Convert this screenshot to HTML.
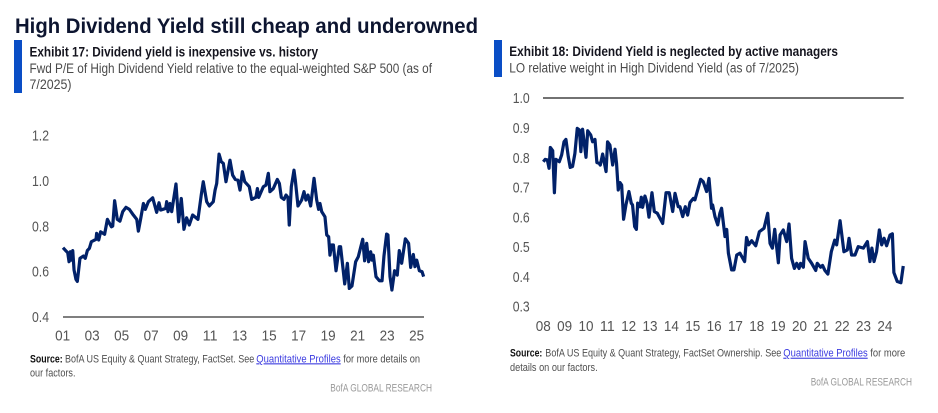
<!DOCTYPE html>
<html lang="en">
<head>
<meta charset="utf-8">
<title>High Dividend Yield still cheap and underowned</title>
<style>
html,body{margin:0;padding:0;background:#fff;width:938px;height:413px;overflow:hidden}
svg{display:block}
text{font-family:"Liberation Sans",sans-serif}
.ex{font-weight:700;font-size:13.5px;fill:#14141e}
.sub{font-size:13.5px;fill:#4a4a4a}
.src{font-size:11px;fill:#4f4f4f}
.srcb{font-size:11px;font-weight:700;fill:#111}
.lnk{font-size:11px;fill:#3b3be0;text-decoration:underline;cursor:pointer}
.brand{font-size:11px;fill:#9a9a9a}
.tick{font-size:15px;fill:#555}
</style>
</head>
<body>
<svg id="root" width="938" height="413" viewBox="0 0 938 413" xmlns="http://www.w3.org/2000/svg">
<text x="15" y="33" font-size="21" font-weight="700" fill="#0d1530" textLength="463" lengthAdjust="spacingAndGlyphs">High Dividend Yield still cheap and underowned</text>

<rect x="14" y="40" width="8" height="53" fill="#0a4ec6"/>
<text class="ex" x="29.5" y="56.5" textLength="288.5" lengthAdjust="spacingAndGlyphs">Exhibit 17: Dividend yield is inexpensive vs. history</text>
<text class="sub" x="29.5" y="73" textLength="402.5" lengthAdjust="spacingAndGlyphs">Fwd P/E of High Dividend Yield relative to the equal-weighted S&amp;P 500 (as of</text>
<text class="sub" x="29.5" y="89" textLength="42" lengthAdjust="spacingAndGlyphs">7/2025)</text>

<rect x="494" y="40" width="8" height="37" fill="#0a4ec6"/>
<text class="ex" x="509.3" y="56" textLength="328.7" lengthAdjust="spacingAndGlyphs">Exhibit 18: Dividend Yield is neglected by active managers</text>
<text class="sub" x="509.3" y="72.7" textLength="289.7" lengthAdjust="spacingAndGlyphs">LO relative weight in High Dividend Yield (as of 7/2025)</text>

<g id="chart17"></g>
<g id="chart18"></g>

<text class="srcb" x="30" y="362.3" textLength="32.7" lengthAdjust="spacingAndGlyphs">Source:</text>
<text class="src" x="65" y="362.3" textLength="189.3" lengthAdjust="spacingAndGlyphs">BofA US Equity &amp; Quant Strategy, FactSet. See</text>
<text class="lnk" x="256.3" y="362.3" textLength="84.4" lengthAdjust="spacingAndGlyphs">Quantitative Profiles</text>
<text class="src" x="343.3" y="362.3" textLength="76.7" lengthAdjust="spacingAndGlyphs">for more details on</text>
<text class="src" x="30" y="376.7" textLength="45.5" lengthAdjust="spacingAndGlyphs">our factors.</text>
<text class="brand" x="330.3" y="391.7" textLength="101.7" lengthAdjust="spacingAndGlyphs">BofA GLOBAL RESEARCH</text>

<text class="srcb" x="510" y="356.7" textLength="32.3" lengthAdjust="spacingAndGlyphs">Source:</text>
<text class="src" x="545.3" y="356.7" textLength="236" lengthAdjust="spacingAndGlyphs">BofA US Equity &amp; Quant Strategy, FactSet Ownership. See</text>
<text class="lnk" x="783.3" y="356.7" textLength="84.4" lengthAdjust="spacingAndGlyphs">Quantitative Profiles</text>
<text class="src" x="870.3" y="356.7" textLength="35" lengthAdjust="spacingAndGlyphs">for more</text>
<text class="src" x="510" y="371" textLength="87.7" lengthAdjust="spacingAndGlyphs">details on our factors.</text>
<text class="brand" x="810.7" y="385.7" textLength="101.3" lengthAdjust="spacingAndGlyphs">BofA GLOBAL RESEARCH</text>
</svg>
<script>
// Exhibit 17 data
const dates17 = [2001.00,2001.18,2001.32,2001.41,2001.50,2001.56,2001.66,2001.75,2001.88,2001.97,2002.06,2002.15,2002.38,2002.51,2002.65,2002.79,2002.92,2003.24,2003.28,2003.42,2003.55,2003.82,2004.01,2004.28,2004.37,2004.50,2004.68,2004.86,2005.05,2005.27,2005.50,2005.77,2006.00,2006.11,2006.27,2006.45,2006.58,2006.79,2007.08,2007.35,2007.51,2007.62,2007.96,2008.03,2008.12,2008.25,2008.37,2008.66,2008.84,2009.02,2009.20,2009.38,2009.56,2009.79,2010.15,2010.38,2010.51,2010.74,2010.92,2011.19,2011.31,2011.42,2011.58,2011.73,2011.87,2012.05,2012.32,2012.50,2012.68,2012.86,2013.00,2013.16,2013.32,2013.63,2013.79,2014.08,2014.18,2014.27,2014.58,2014.76,2014.92,2015.03,2015.26,2015.53,2015.67,2015.80,2015.98,2016.12,2016.25,2016.34,2016.48,2016.66,2016.75,2016.93,2017.18,2017.34,2017.47,2017.61,2017.79,2018.02,2018.20,2018.33,2018.42,2018.54,2018.76,2018.88,2019.01,2019.10,2019.21,2019.33,2019.51,2019.73,2019.82,2020.10,2020.28,2020.41,2020.59,2020.84,2021.02,2021.32,2021.45,2021.59,2021.72,2021.86,2021.95,2022.04,2022.22,2022.45,2022.63,2022.76,2022.94,2023.03,2023.17,2023.30,2023.48,2023.66,2023.80,2023.96,2024.21,2024.43,2024.57,2024.75,2024.86,2024.98,2025.16,2025.34,2025.45];
const values17 = [.706,.693,.684,.644,.688,.651,.693,.607,.566,.557,.607,.659,.669,.659,.693,.703,.732,.743,.769,.740,.776,.765,.831,.798,.801,.913,.831,.823,.865,.884,.875,.850,.831,.779,.835,.901,.875,.909,.926,.862,.904,.872,.879,.909,.865,.901,.865,.987,.820,.923,.787,.838,.806,.850,.831,.942,.997,.909,.890,.909,.960,.989,1.119,1.085,1.078,.997,1.092,1.026,1.007,1.004,.960,1.041,.997,.975,.919,.928,.967,.928,.975,.982,1.034,.953,.967,1.007,.989,.928,.919,.938,.928,.806,.975,1.048,1.004,.890,.916,.953,.916,.938,.890,1.012,.916,.875,.901,.865,.842,.762,.754,.673,.718,.718,.604,.710,.710,.546,.637,.526,.537,.644,.666,.743,.648,.725,.644,.688,.651,.673,.578,.560,.560,.669,.766,.762,.578,.519,.604,.585,.693,.637,.745,.725,.619,.676,.622,.651,.604,.600,.578];
const yTicks17 = [0.4,0.6,0.8,1.0,1.2];
const yTickLabels17 = ["0.4","0.6","0.8","1.0","1.2"];
const xTicks17 = [2001,2003,2005,2007,2009,2011,2013,2015,2017,2019,2021,2023,2025];
const xTickLabels17 = ["01","03","05","07","09","11","13","15","17","19","21","23","25"];

// Exhibit 18 data
const dates18 = [2008.00,2008.09,2008.19,2008.27,2008.33,2008.44,2008.52,2008.59,2008.75,2008.86,2008.97,2009.06,2009.17,2009.26,2009.37,2009.48,2009.59,2009.69,2009.76,2009.84,2009.90,2010.00,2010.08,2010.22,2010.31,2010.42,2010.51,2010.61,2010.67,2010.78,2010.94,2011.01,2011.12,2011.25,2011.36,2011.43,2011.51,2011.59,2011.67,2011.76,2011.87,2012.01,2012.12,2012.18,2012.28,2012.36,2012.42,2012.53,2012.59,2012.65,2012.76,2012.86,2012.95,2013.09,2013.20,2013.34,2013.59,2013.75,2013.90,2014.06,2014.17,2014.32,2014.40,2014.53,2014.65,2014.76,2014.87,2015.03,2015.10,2015.37,2015.49,2015.65,2015.76,2015.88,2015.93,2016.04,2016.17,2016.27,2016.35,2016.51,2016.59,2016.67,2016.82,2016.93,2017.06,2017.21,2017.43,2017.52,2017.62,2017.76,2017.95,2018.12,2018.34,2018.51,2018.62,2018.73,2018.84,2019.01,2019.09,2019.24,2019.40,2019.51,2019.63,2019.76,2019.87,2019.98,2020.05,2020.18,2020.26,2020.41,2020.57,2020.76,2020.83,2020.99,2021.08,2021.19,2021.33,2021.49,2021.65,2021.74,2021.90,2022.08,2022.24,2022.32,2022.44,2022.60,2022.75,2022.99,2023.18,2023.30,2023.39,2023.49,2023.61,2023.74,2023.85,2023.96,2024.08,2024.24,2024.35,2024.42,2024.58,2024.75,2024.86];
const values18 = [.786,.794,.792,.764,.834,.823,.682,.794,.786,.809,.853,.861,.803,.767,.770,.814,.898,.893,.820,.895,.859,.801,.890,.876,.853,.861,.783,.781,.775,.812,.753,.853,.842,.775,.828,.781,.691,.716,.708,.593,.641,.686,.647,.641,.568,.559,.647,.635,.667,.633,.671,.647,.600,.682,.619,.613,.579,.682,.682,.619,.680,.635,.635,.602,.635,.607,.649,.663,.658,.727,.719,.686,.730,.630,.641,.602,.574,.613,.630,.535,.559,.479,.423,.423,.473,.479,.451,.532,.507,.521,.504,.551,.563,.613,.512,.496,.559,.447,.540,.557,.518,.577,.462,.428,.445,.428,.445,.432,.518,.462,.445,.421,.445,.432,.438,.421,.409,.484,.523,.507,.588,.484,.490,.529,.473,.473,.501,.496,.518,.451,.496,.451,.484,.557,.507,.529,.504,.540,.544,.414,.384,.380,.436];
const yTicks18 = [0.3,0.4,0.5,0.6,0.7,0.8,0.9,1.0];
const yTickLabels18 = ["0.3","0.4","0.5","0.6","0.7","0.8","0.9","1.0"];
const xTicks18 = [2008,2009,2010,2011,2012,2013,2014,2015,2016,2017,2018,2019,2020,2021,2022,2023,2024];
const xTickLabels18 = ["08","09","10","11","12","13","14","15","16","17","18","19","20","21","22","23","24"];

const NS = "http://www.w3.org/2000/svg";

function labelEl(parent, str, x, y, width) {
  const t = document.createElementNS(NS, "text");
  t.setAttribute("class", "tick");
  t.setAttribute("x", x);
  t.setAttribute("y", y);
  t.setAttribute("textLength", width);
  t.setAttribute("lengthAdjust", "spacingAndGlyphs");
  t.textContent = str;
  parent.appendChild(t);
  return t;
}

function axisLine(parent, x1, x2, y, color) {
  const l = document.createElementNS(NS, "line");
  l.setAttribute("x1", x1);
  l.setAttribute("x2", x2);
  l.setAttribute("y1", y);
  l.setAttribute("y2", y);
  l.setAttribute("stroke", color);
  l.setAttribute("stroke-width", "1.5");
  parent.appendChild(l);
  return l;
}

function seriesPath(parent, dates, values, xFn, yFn) {
  const p = document.createElementNS(NS, "path");
  p.setAttribute("d", dates.map((d, i) => (i ? "L" : "M") + xFn(d).toFixed(2) + " " + yFn(values[i]).toFixed(2)).join(""));
  p.setAttribute("fill", "none");
  p.setAttribute("stroke", "#012169");
  p.setAttribute("stroke-width", "3.2");
  p.setAttribute("stroke-linejoin", "round");
  parent.appendChild(p);
  return p;
}

// Exhibit 17 axes and marks
const x17 = d => 63 + (d - 2001) * 14.75;
const y17 = v => 317 - (v - 0.4) * 226.6;
const g17 = document.getElementById("chart17");

const axis17 = axisLine(g17, 63, 424, y17(0.4), "#555");



yTicks17.forEach((v, i) => {
  const t = labelEl(g17, yTickLabels17[i], 32, y17(v) + 5, 17);
  
  
});
xTicks17.forEach((d, i) => {
  const t = labelEl(g17, xTickLabels17[i], x17(d) - 7.9, 340.5, 15);
  
  
});
const line17 = seriesPath(g17, dates17, values17, x17, y17);



// Exhibit 18 axes and marks
const x18 = d => 543.3 + (d - 2008) * 21.35;
const y18 = v => 98 + (1 - v) * 297.9;
const g18 = document.getElementById("chart18");

const axis18 = axisLine(g18, 543, 903.7, y18(1.0), "#444");



yTicks18.forEach((v, i) => {
  const t = labelEl(g18, yTickLabels18[i], 512.7, y18(v) + 5.2, 17);
  
  
});
xTicks18.forEach((d, i) => {
  const t = labelEl(g18, xTickLabels18[i], x18(d) - 7.5, 331, 15);
  
  
});
const line18 = seriesPath(g18, dates18, values18, x18, y18);


</script>
</body>
</html>
